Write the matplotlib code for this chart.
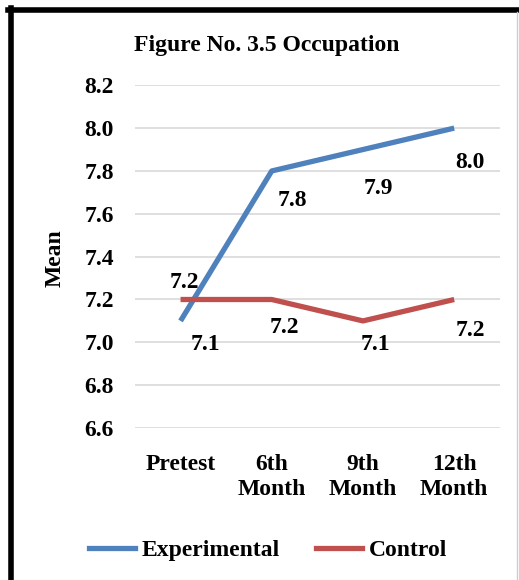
import matplotlib.pyplot as plt
from matplotlib.lines import Line2D

# 数据
categories = ["Pretest", "6th\nMonth", "9th\nMonth", "12th\nMonth"]
experimental = [7.1, 7.8, 7.9, 8.0]
control = [7.2, 7.2, 7.1, 7.2]
exp_labels = ["7.1", "7.8", "7.9", "8.0"]
ctrl_labels = ["7.2", "7.2", "7.1", "7.2"]
y_ticks = [6.6, 6.8, 7.0, 7.2, 7.4, 7.6, 7.8, 8.0, 8.2]

# 数据标签偏移 (points)
exp_offsets = [(18, -17), (15, -21), (11, -28), (11, -25)]
ctrl_offsets = [(3, 12), (9, -20), (9, -17), (12, -22)]

FS = 17
plt.rcParams['font.family'] = ['Liberation Serif', 'DejaVu Serif']
plt.rcParams['font.weight'] = 'bold'

fig = plt.figure(figsize=(5.19, 5.8), dpi=100)
ax = fig.add_axes([0.260, 0.262, 0.703, 0.591])

x = list(range(len(categories)))
blue = "#4F81BD"
red = "#C0504D"
ax.plot(x, experimental, color=blue, linewidth=3.8, solid_capstyle='butt', zorder=3)
ax.plot(x, control, color=red, linewidth=3.8, solid_capstyle='butt', zorder=3)

for i in x:
    ax.annotate(exp_labels[i], (x[i], experimental[i]), xytext=exp_offsets[i],
                textcoords='offset points', ha='center', va='center',
                fontsize=FS, fontweight='bold', zorder=4)
    ax.annotate(ctrl_labels[i], (x[i], control[i]), xytext=ctrl_offsets[i],
                textcoords='offset points', ha='center', va='center',
                fontsize=FS, fontweight='bold', zorder=4)

ax.set_xlim(-0.5, len(categories) - 0.5)
ax.set_ylim(6.6, 8.2)
ax.set_yticks(y_ticks)
ax.set_yticklabels([f"{v:.1f}" for v in y_ticks], fontsize=FS, fontweight='bold')
ax.set_xticks(x)
ax.set_xticklabels(categories, fontsize=FS, fontweight='bold', linespacing=1.25)
ax.tick_params(axis='y', length=0, pad=15)
ax.tick_params(axis='x', length=0, pad=19)
ax.grid(axis='y', color='#D9D9D9', linewidth=1.2)
ax.set_axisbelow(True)
for s in ax.spines.values():
    s.set_visible(False)

fig.text(267 / 519, 1 - 46 / 580, "Figure No. 3.5 Occupation", ha='center', va='center',
         fontsize=FS, fontweight='bold')
fig.text(55 / 519, 1 - 258 / 580, "Mean", rotation=90, ha='center', va='center',
         fontsize=FS, fontweight='bold')

handles = [Line2D([], [], color=blue, linewidth=3.8),
           Line2D([], [], color=red, linewidth=3.8)]
fig.legend(handles, ["Experimental", "Control"], loc='center',
           bbox_to_anchor=(268 / 519, 1 - 550 / 580), ncol=2, frameon=False,
           handlelength=1.95, handletextpad=0.3, columnspacing=1.5,
           prop={'weight': 'bold', 'size': FS})

# 外框
fig.add_artist(Line2D([8 / 519, 1], [1 - 10 / 580, 1 - 10 / 580], color='black',
                      linewidth=4, transform=fig.transFigure))
fig.add_artist(Line2D([11 / 519, 11 / 519], [0, 1 - 8 / 580], color='black',
                      linewidth=4, transform=fig.transFigure))
fig.add_artist(Line2D([517 / 519, 517 / 519], [0, 1 - 12 / 580], color='#CCCCCC',
                      linewidth=1, transform=fig.transFigure))

fig.savefig("out.png", dpi=100)
